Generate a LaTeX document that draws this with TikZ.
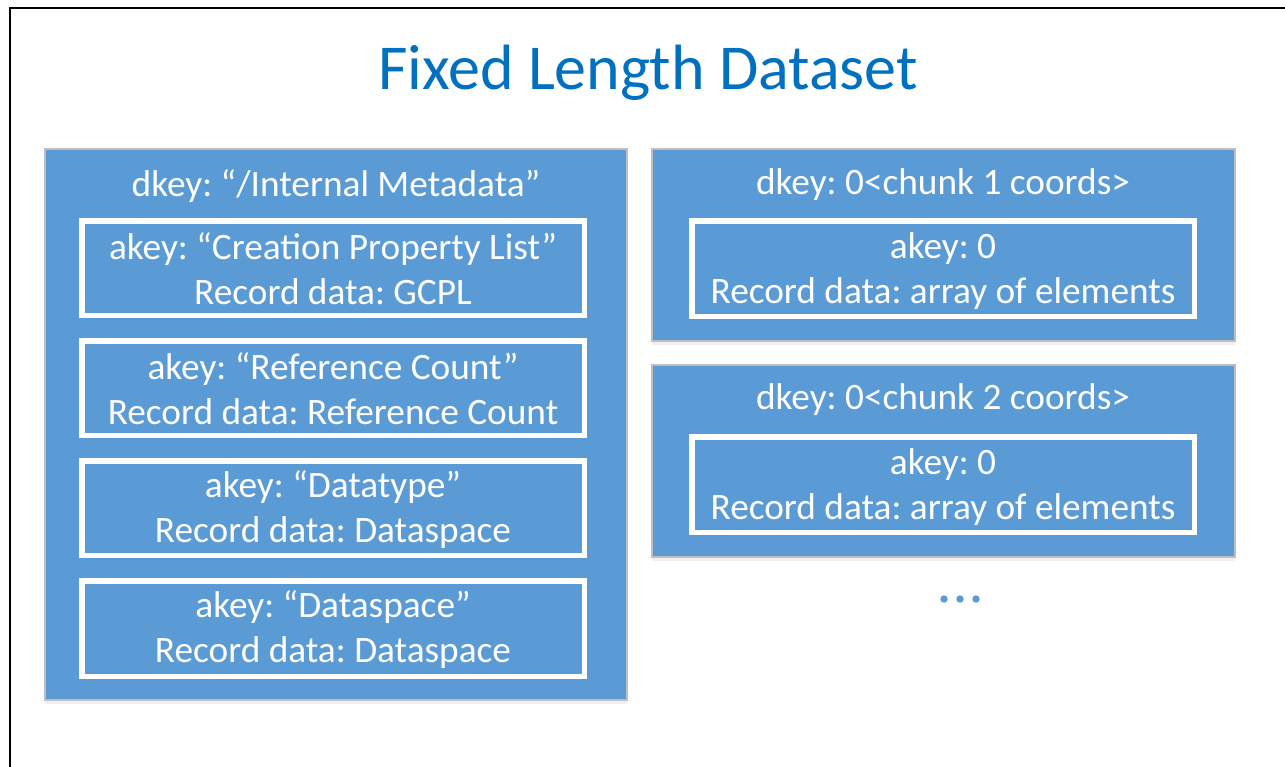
\documentclass[tikz,border=0pt]{standalone}
\usepackage{fontspec}
\setmainfont{Carlito}
\usetikzlibrary{shadows}
\definecolor{boxblue}{HTML}{5B9BD5}
\definecolor{titleblue}{HTML}{0070C0}
\definecolor{edgegray}{HTML}{BFBFBF}
\frenchspacing
\begin{document}
\begin{tikzpicture}[x=1pt,y=-1pt,
  outerbox/.style={fill=boxblue,draw=edgegray,line width=1.5pt,
    drop shadow={opacity=0.12,shadow xshift=0pt,shadow yshift=-4pt}},
  innerbox/.style={draw=white,line width=5.5pt},
  boxtext/.style={text=white,font=\fontsize{37.3}{45}\selectfont,align=center,inner sep=0pt},
  titletext/.style={text=titleblue,font=\fontsize{64}{66}\selectfont,inner sep=0pt}]
\useasboundingbox (0,0) rectangle (1285,766);
\fill[white] (0,0) rectangle (1285,766);
\draw[line width=2pt] (10,780) -- (10,8) -- (1300,8);
\node[titletext] (title) at (648,73) {Fixed Length Dataset};
% left big box
\draw[outerbox] (45,149) rectangle (627,700);
\node[boxtext] (dkeyL) at (336,186) {dkey: “/Internal Metadata”};
\draw[innerbox] (81.75,220.75) rectangle (584.25,315.25);
\node[boxtext] (a1) at (333,269) {akey: “Creation Property List”\\Record data: GCPL};
\draw[innerbox] (81.75,340.75) rectangle (584.25,435.25);
\node[boxtext] (a2) at (333,389) {akey: “Reference Count”\\Record data: Reference Count};
\draw[innerbox] (81.75,460.75) rectangle (584.25,555.25);
\node[boxtext] (a3) at (333,510) {akey: “Datatype”\\Record data: Dataspace};
\draw[innerbox] (81.75,580.75) rectangle (584.25,676.25);
\node[boxtext] (a4) at (333,630) {akey: “Dataspace”\\Record data: Dataspace};
% right box 1
\draw[outerbox] (652,149) rectangle (1235,341);
\node[boxtext] (dkeyR1) at (943,185) {dkey: 0<chunk 1 coords>};
\draw[innerbox] (691.75,220.75) rectangle (1194.25,316.25);
\node[boxtext] (b1) at (943,271) {akey: 0\\Record data: array of elements};
% right box 2
\draw[outerbox] (652,365) rectangle (1235,557);
\node[boxtext] (dkeyR2) at (943,400) {dkey: 0<chunk 2 coords>};
\draw[innerbox] (691.75,436.75) rectangle (1194.25,532.25);
\node[boxtext] (b2) at (943,487) {akey: 0\\Record data: array of elements};
% dots
\foreach \x in {944,960,976} \fill[boxblue] (\x,599) circle (3.7);
\end{tikzpicture}
\end{document}
